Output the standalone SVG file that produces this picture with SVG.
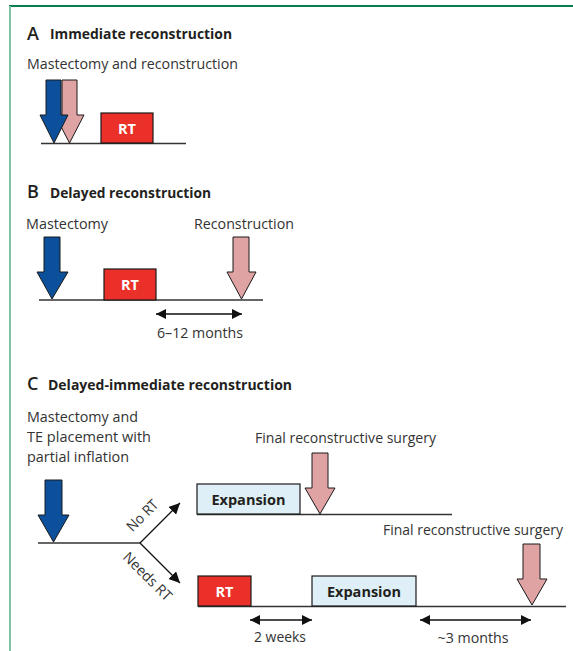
<svg xmlns="http://www.w3.org/2000/svg" width="573" height="651" viewBox="0 0 573 651">
<defs>
<style>
.t{font-family:"Open Sans","Liberation Sans",Arial,sans-serif;fill:#333;font-size:14.5px}
.h{font-family:"Open Sans","Liberation Sans",Arial,sans-serif;fill:#231f20;font-size:14.5px;font-weight:bold}
.L{font-family:"Open Sans","Liberation Sans",Arial,sans-serif;fill:#231f20;font-size:18px;font-weight:600}
.ln{stroke:#333;stroke-width:1.4;fill:none}
.blue{fill:#0c4f9a;stroke:#1a1a1a;stroke-width:1}
.pink{fill:#e0a3a3;stroke:#1a1a1a;stroke-width:1}
.rt{fill:#ea3029;stroke:#1a1a1a;stroke-width:1.2}
.ex{fill:#dfeff7;stroke:#1a1a1a;stroke-width:1.2}
.rtt{font-family:"Open Sans","Liberation Sans",Arial,sans-serif;fill:#fff;font-size:14.5px;font-weight:bold}
.ext{font-family:"Open Sans","Liberation Sans",Arial,sans-serif;fill:#231f20;font-size:14.5px;font-weight:bold}
.dim{stroke:#111;stroke-width:1.4;fill:none;marker-start:url(#ah);marker-end:url(#ah)}
.br{stroke:#111;stroke-width:1.3;fill:none;marker-end:url(#ah2)}
</style>
<marker id="ah" viewBox="0 0 10 10" refX="10" refY="5" markerWidth="10" markerHeight="11" markerUnits="userSpaceOnUse" orient="auto-start-reverse"><path d="M0,0L10,5L0,10Z" fill="#111"/></marker>
<marker id="ah2" viewBox="0 0 10 10" refX="10" refY="5" markerWidth="11" markerHeight="11" markerUnits="userSpaceOnUse" orient="auto"><path d="M0,0L10,5L0,10Z" fill="#111"/></marker>
</defs>
<rect width="573" height="651" fill="#fff"/>
<line x1="9" y1="6" x2="573" y2="6" stroke="#0a7d4a" stroke-width="2"/>
<line x1="10" y1="6" x2="10" y2="651" stroke="#7cc4a2" stroke-width="2"/>

<g id="sectionA">
<text class="L" x="27" y="40">A</text>
<text class="h" x="50" y="39" textLength="182" lengthAdjust="spacingAndGlyphs">Immediate reconstruction</text>
<text class="t" x="27" y="69" textLength="211" lengthAdjust="spacingAndGlyphs">Mastectomy and reconstruction</text>
<line class="ln" x1="41" y1="143.5" x2="186" y2="143.5"/>
<g id="A-reconstruction"><polygon class="pink" points="62,80 77,80 77,115 84,115 69.5,143 55,115 62,115"/></g>
<g id="A-mastectomy"><polygon class="blue" points="46,80 61,80 61,115 68,115 54,143 40,115 46,115"/></g>
<g id="A-RT"><rect class="rt" x="101" y="113" width="52" height="30"/><text class="rtt" x="127" y="134" text-anchor="middle">RT</text></g>
</g>

<g id="sectionB">
<text class="L" x="27" y="198">B</text>
<text class="h" x="50" y="198" textLength="161" lengthAdjust="spacingAndGlyphs">Delayed reconstruction</text>
<text class="t" x="26" y="229" textLength="82" lengthAdjust="spacingAndGlyphs">Mastectomy</text>
<text class="t" x="194" y="229" textLength="100" lengthAdjust="spacingAndGlyphs">Reconstruction</text>
<line class="ln" x1="39" y1="300" x2="263" y2="300"/>
<g id="B-mastectomy"><polygon class="blue" points="44,237 60,237 60,272 68,272 52,299 37,272 44,272"/></g>
<g id="B-RT"><rect class="rt" x="104" y="269" width="52" height="31"/><text class="rtt" x="130" y="290" text-anchor="middle">RT</text></g>
<g id="B-reconstruction"><polygon class="pink" points="233,237 249,237 249,272 256,272 241.5,299 227,272 233,272"/></g>
<g id="B-interval"><line class="dim" x1="156" y1="314" x2="242" y2="314"/><text class="t" x="200" y="338" text-anchor="middle" textLength="86" lengthAdjust="spacingAndGlyphs">6–12 months</text></g>
</g>

<g id="sectionC">
<text class="L" x="27" y="390">C</text>
<text class="h" x="48" y="390" textLength="244" lengthAdjust="spacingAndGlyphs">Delayed-immediate reconstruction</text>
<text class="t" x="27" y="422" textLength="111" lengthAdjust="spacingAndGlyphs">Mastectomy and</text>
<text class="t" x="27" y="442" textLength="124" lengthAdjust="spacingAndGlyphs">TE placement with</text>
<text class="t" x="27" y="462" textLength="102" lengthAdjust="spacingAndGlyphs">partial inflation</text>
<g id="C-mastectomy"><polygon class="blue" points="45,480 62,480 62,515 69,515 53.5,542 38,515 45,515"/></g>

<g id="connectors">
<line class="ln" x1="38" y1="543" x2="140" y2="543"/>
<line class="br" x1="140" y1="543" x2="180" y2="503"/>
<line class="br" x1="140" y1="543" x2="180" y2="583"/>
<text class="t" x="0" y="0" font-size="13.5" text-anchor="middle" textLength="38" lengthAdjust="spacingAndGlyphs" transform="translate(146,519) rotate(-45)">No RT</text>
<text class="t" x="0" y="0" font-size="13.5" text-anchor="middle" textLength="62" lengthAdjust="spacingAndGlyphs" transform="translate(144,580) rotate(45)">Needs RT</text>
</g>

<g id="C-noRT">
<line class="ln" x1="197" y1="514.5" x2="452" y2="514.5"/>
<g id="C-expansion1"><rect class="ex" x="197" y="484" width="103" height="30"/><text class="ext" x="248.5" y="505" text-anchor="middle">Expansion</text></g>
<text class="t" x="345.5" y="443" text-anchor="middle" textLength="181" lengthAdjust="spacingAndGlyphs">Final reconstructive surgery</text>
<g id="C-final1"><polygon class="pink" points="312,453 328,453 328,488 335,488 320,514 305,488 312,488"/></g>
</g>

<g id="C-needsRT">
<line class="ln" x1="198" y1="606.5" x2="566" y2="606.5"/>
<g id="C-RT"><rect class="rt" x="198" y="576" width="53" height="30"/><text class="rtt" x="224.5" y="597" text-anchor="middle">RT</text></g>
<g id="C-expansion2"><rect class="ex" x="312" y="576" width="104" height="30"/><text class="ext" x="364" y="597" text-anchor="middle">Expansion</text></g>
<text class="t" x="473" y="535" text-anchor="middle" textLength="180" lengthAdjust="spacingAndGlyphs">Final reconstructive surgery</text>
<g id="C-final2"><polygon class="pink" points="523,544 540,544 540,579 547,579 532,605 517,579 523,579"/></g>
<g id="C-2weeks"><line class="dim" x1="250" y1="620" x2="312" y2="620"/><text class="t" x="280" y="642" text-anchor="middle" textLength="52" lengthAdjust="spacingAndGlyphs">2 weeks</text></g>
<g id="C-3months"><line class="dim" x1="420" y1="620" x2="531" y2="620"/><text class="t" x="473" y="643" text-anchor="middle" textLength="71" lengthAdjust="spacingAndGlyphs">~3 months</text></g>
</g>
</g>
</svg>
